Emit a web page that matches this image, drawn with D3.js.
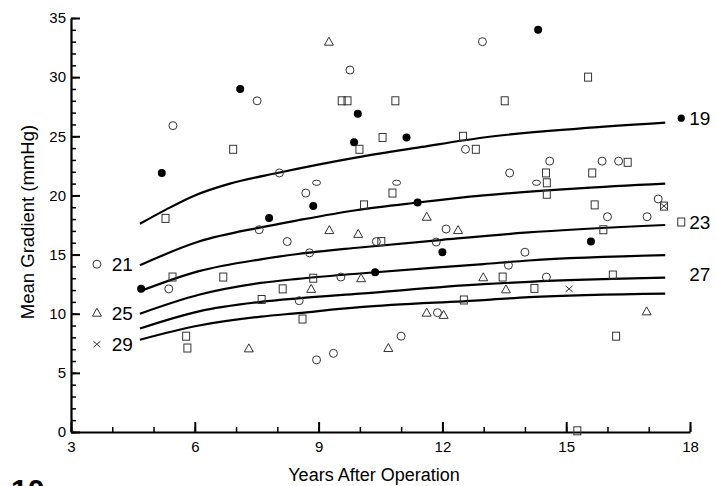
<!DOCTYPE html>
<html>
<head>
<meta charset="utf-8">
<script src="https://cdn.jsdelivr.net/npm/d3@7"></script>
<style>
  body { margin: 0; background: #fff; }
  text { font-family: "Liberation Sans", Arial, Helvetica, sans-serif; fill: #000; }
</style>
</head>
<body>
<svg id="chart" width="716" height="486"></svg>
<script>
// ------- data -------
const xMajorTicks = [3, 6, 9, 12, 15, 18];
const yMajorTicks = [0, 5, 10, 15, 20, 25, 30, 35];

// valve size labels and regression curves (years, mmHg)
const sizes = ["19", "21", "23", "25", "27", "29"];
const curve19 = [[4.67, 17.6], [5.3, 18.8], [6.0, 20.0], [6.85, 21.0], [8.0, 21.9], [9.9, 23.2], [11.5, 24.1], [13.0, 24.9], [15.3, 25.65], [17.4, 26.15]];
const curve21 = [[4.67, 14.1], [6.1, 16.1], [7.6, 17.3], [8.5, 17.9], [9.9, 18.75], [11.4, 19.4], [13.0, 20.0], [15.3, 20.6], [17.4, 21.0]];
const curve23 = [[4.67, 11.9], [6.1, 13.6], [7.6, 14.6], [8.5, 15.05], [10.0, 15.6], [12.0, 16.25], [14.0, 16.85], [17.4, 17.5]];
const curve25 = [[4.67, 10.0], [6.1, 11.6], [7.6, 12.6], [8.5, 12.95], [10.0, 13.4], [13.0, 14.2], [14.1, 14.5], [17.4, 14.95]];
const curve27 = [[4.67, 8.75], [6.1, 10.2], [7.6, 11.0], [8.5, 11.3], [10.0, 11.7], [13.0, 12.5], [14.1, 12.7], [17.4, 13.05]];
const curve29 = [[4.67, 7.8], [6.1, 9.0], [7.6, 9.75], [8.5, 10.05], [10.0, 10.55], [13.0, 11.15], [14.1, 11.4], [17.4, 11.7]];

// observed gradients by valve size (years, mmHg)
const pts19 = [[4.70, 12.1], [5.20, 21.9], [7.10, 29.0], [7.80, 18.1], [8.87, 19.1], [9.86, 24.5], [9.95, 26.9], [10.37, 13.5],
  [11.13, 24.9], [11.40, 19.4], [12.0, 15.2], [14.32, 34.0], [15.6, 16.1]];
const pts21 = [[5.37, 12.1], [5.47, 25.9], [7.51, 28.0], [7.56, 17.1], [8.05, 21.9], [8.24, 16.1], [8.53, 11.1], [8.69, 20.2],
  [8.78, 15.15], [8.95, 6.1], [9.36, 6.65], [9.54, 13.1], [9.76, 30.6], [10.40, 16.1], [11.0, 8.1], [11.85, 16.06],
  [11.88, 10.09], [12.09, 17.16], [12.56, 23.9], [12.97, 33.0], [13.6, 14.1], [13.63, 21.9], [14.0, 15.2], [14.52, 13.1],
  [14.60, 22.9], [15.87, 22.9], [16.0, 18.2], [16.27, 22.9], [16.96, 18.2], [17.23, 19.7]];
const ovals21 = [[8.95, 21.07], [10.89, 21.07], [14.28, 21.07]];
const pts23 = [[5.29, 18.06], [5.46, 13.1], [5.79, 8.1], [5.82, 7.1], [6.69, 13.1], [6.93, 23.9], [7.62, 11.2], [8.13, 12.1],
  [8.61, 9.55], [8.87, 13.0], [9.56, 28.0], [9.70, 28.0], [9.99, 23.9], [10.10, 19.2], [10.52, 16.1], [10.55, 24.9],
  [10.79, 20.2], [10.86, 28.0], [12.50, 25.0], [12.52, 11.16], [12.81, 23.9], [13.46, 13.1], [13.51, 28.0], [14.23, 12.14],
  [14.51, 21.9], [14.53, 21.07], [14.53, 20.1], [15.27, 0.1], [15.53, 30.0], [15.63, 21.9], [15.69, 19.2], [15.9, 17.1],
  [16.13, 13.27], [16.21, 8.1], [16.49, 22.8], [17.37, 19.1]];
const pts25 = [[7.31, 7.07], [8.82, 12.1], [9.25, 33.0], [9.26, 17.07], [9.96, 16.75], [10.03, 13.0], [10.69, 7.1],
  [11.62, 18.2], [11.62, 10.09], [12.03, 9.9], [12.38, 17.07], [12.99, 13.08], [13.54, 12.06], [16.95, 10.2]];
const pts29 = [[15.07, 12.1], [17.37, 19.1]];

const curves = [curve19, curve21, curve23, curve25, curve27, curve29];
const labelSide = ["right", "left", "right", "left", "right", "left"];

// ------- layout -------
const svg = d3.select("#chart");
const width = +svg.attr("width");
const height = +svg.attr("height");
const margin = { top: 18, right: 26, bottom: 54, left: 71 };

const x = d3.scaleLinear().domain([3, 18]).range([margin.left, width - margin.right]);
const y = d3.scaleLinear().domain([0, 35]).range([height - margin.bottom, margin.top]);

// ------- axes -------
const xMinor = d3.range(3, 19, 1);
const yMinor = d3.range(0, 36, 1);

svg.append("g")
  .attr("transform", `translate(0,${y(0)})`)
  .call(d3.axisBottom(x).tickValues(xMinor).tickSizeInner(-5).tickSizeOuter(0).tickFormat(""))
  .call(g => g.selectAll(".tick line").attr("stroke-width", 1.5))
  .call(g => g.select(".domain").remove());
svg.append("g")
  .attr("transform", `translate(0,${y(0)})`)
  .call(d3.axisBottom(x).tickValues(xMajorTicks).tickSizeInner(-10).tickSizeOuter(0).tickPadding(9))
  .call(g => g.select(".domain").attr("stroke-width", 2.2))
  .call(g => g.selectAll(".tick line").attr("stroke-width", 2))
  .call(g => g.selectAll("text").attr("font-size", 15).attr("font-family", "Liberation Sans, Arial, sans-serif"));

svg.append("g")
  .attr("transform", `translate(${x(3)},0)`)
  .call(d3.axisLeft(y).tickValues(yMinor).tickSizeInner(-5).tickSizeOuter(0).tickFormat(""))
  .call(g => g.selectAll(".tick line").attr("stroke-width", 1.5))
  .call(g => g.select(".domain").remove());
svg.append("g")
  .attr("transform", `translate(${x(3)},0)`)
  .call(d3.axisLeft(y).tickValues(yMajorTicks).tickSizeInner(-9).tickSizeOuter(0).tickPadding(5))
  .call(g => g.select(".domain").attr("stroke-width", 2.2))
  .call(g => g.selectAll(".tick line").attr("stroke-width", 2))
  .call(g => g.selectAll("text").attr("font-size", 15).attr("font-family", "Liberation Sans, Arial, sans-serif"));

// axis titles
svg.append("text")
  .attr("x", 374)
  .attr("y", 481)
  .attr("text-anchor", "middle")
  .attr("font-size", 18)
  .text("Years After Operation");

svg.append("text")
  .attr("transform", `translate(34,${222}) rotate(-90)`)
  .attr("text-anchor", "middle")
  .attr("font-size", 18.5)
  .text("Mean Gradient (mmHg)");

// cut-off figure number at the bottom
svg.append("text")
  .attr("x", 11)
  .attr("y", 500)
  .attr("font-size", 30)
  .attr("font-weight", "bold")
  .text("10");

// ------- curves -------
const line = d3.line()
  .x(d => x(d[0]))
  .y(d => y(d[1]))
  .curve(d3.curveMonotoneX);

svg.append("g")
  .selectAll("path")
  .data(curves)
  .join("path")
  .attr("d", line)
  .attr("fill", "none")
  .attr("stroke", "#000")
  .attr("stroke-width", 2.2);

// ------- markers -------
const mk = svg.append("g").attr("stroke", "#333").attr("stroke-width", 1);

function drawFilled(g, data, r) {
  g.selectAll(null).data(data).join("circle")
    .attr("cx", d => x(d[0])).attr("cy", d => y(d[1]))
    .attr("r", r).attr("fill", "#000").attr("stroke", "none");
}
function drawCircle(g, data) {
  g.selectAll(null).data(data).join("circle")
    .attr("cx", d => x(d[0])).attr("cy", d => y(d[1]))
    .attr("r", 4).attr("fill", "none");
}
function drawOval(g, data) {
  g.selectAll(null).data(data).join("ellipse")
    .attr("cx", d => x(d[0])).attr("cy", d => y(d[1]))
    .attr("rx", 4).attr("ry", 2.6).attr("fill", "none");
}
function drawSquare(g, data) {
  g.selectAll(null).data(data).join("rect")
    .attr("x", d => x(d[0]) - 3.5).attr("y", d => y(d[1]) - 4)
    .attr("width", 7).attr("height", 8).attr("fill", "none");
}
function drawTriangle(g, data) {
  g.selectAll(null).data(data).join("path")
    .attr("transform", d => `translate(${x(d[0])},${y(d[1])})`)
    .attr("d", "M0,-4.5L4.5,3.5L-4.5,3.5Z").attr("fill", "none");
}
function drawCross(g, data) {
  g.selectAll(null).data(data).join("path")
    .attr("transform", d => `translate(${x(d[0])},${y(d[1])})`)
    .attr("d", "M-3.5,-3L3.5,3M-3.5,3L3.5,-3").attr("fill", "none");
}

drawFilled(mk.append("g"), pts19, 4);
drawCircle(mk.append("g"), pts21);
drawOval(mk.append("g"), ovals21);
drawSquare(mk.append("g"), pts23);
drawTriangle(mk.append("g"), pts25);
drawCross(mk.append("g"), pts29);

// ------- curve labels with their symbols -------
const markerFns = [
  (g, p) => drawFilled(g, [p], 3.6),
  (g, p) => drawCircle(g, [p]),
  (g, p) => drawSquare(g, [p]),
  (g, p) => drawTriangle(g, [p]),
  null,
  (g, p) => drawCross(g, [p])
];
const labelDy = [-4.5, -1, -3, -1, -3, 4.5];

const lab = svg.append("g");
sizes.forEach((s, i) => {
  const c = curves[i];
  const right = labelSide[i] === "right";
  const end = right ? c[c.length - 1] : c[0];
  const px = x(end[0]);
  const py = y(end[1]) + labelDy[i];
  const mx = right ? px + 16 : px - 43;
  if (markerFns[i]) {
    const g = mk.append("g");
    markerFns[i](g, [x.invert(mx), y.invert(py)]);
  }
  lab.append("text")
    .attr("x", right ? px + 24 : px - 7)
    .attr("y", py)
    .attr("dy", "0.36em")
    .attr("text-anchor", right ? "start" : "end")
    .attr("font-size", 19)
    .text(s);
});
</script>
</body>
</html>
